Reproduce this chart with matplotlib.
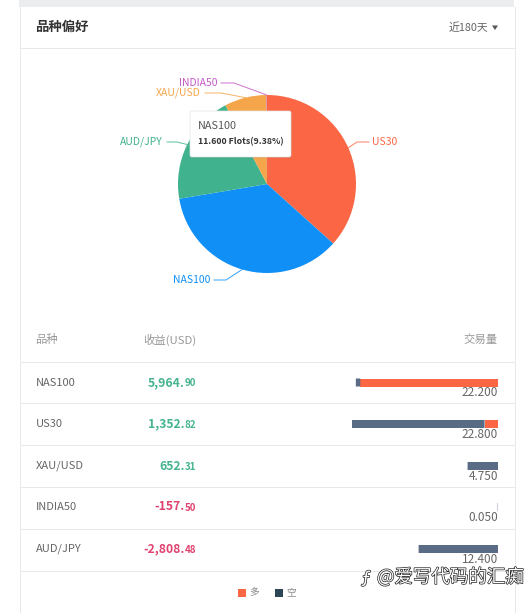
import math
import matplotlib
matplotlib.use("Agg")
import matplotlib.pyplot as plt
import matplotlib.patheffects as pe
from matplotlib.patches import Rectangle, FancyBboxPatch

plt.rcParams['font.family'] = ['Noto Sans CJK SC', 'DejaVu Sans']

# pie data, clockwise from the top
pie_names = ['US30', 'NAS100', 'AUD/JPY', 'XAU/USD', 'INDIA50']
pie_lots = [22.8, 22.2, 12.4, 4.75, 0.05]
pie_colors = ['#fb6745', '#1090f6', '#40b28d', '#f5a64b', '#c45ac8']

# table data
symbols = ['NAS100', 'US30', 'XAU/USD', 'INDIA50', 'AUD/JPY']
profit_main = ['5,964.', '1,352.', '652.', '-157.', '-2,808.']
profit_cents = ['90', '82', '31', '50', '48']
profit_sign = [1, 1, 1, -1, -1]
long_lots = [21.5, 2.1, 0, 0, 0]
short_lots = [0.7, 20.7, 4.75, 0.05, 12.4]
volume_labels = ['22.200', '22.800', '4.750', '0.050', '12.400']

W, H = 530, 613
GREEN = '#45b48d'
RED = '#e0436f'
LONG = '#fb6745'
SHORT = '#5a6b85'
LINE = '#e8e8e8'

fig = plt.figure(figsize=(W / 100, H / 100), dpi=100, facecolor='white')

# page layer in pixel coordinates
bg = fig.add_axes([0, 0, 1, 1])
bg.set_xlim(0, W)
bg.set_ylim(H, 0)
bg.axis('off')

bg.add_patch(Rectangle((19, 0), 495, 7, color='#ebedee', lw=0))
bg.plot([19.5, 19.5], [7, H], color=LINE, lw=0.72)
bg.plot([514.5, 514.5], [7, H], color=LINE, lw=0.72)
for y in [47.5, 361.5, 402.5, 444.5, 486.5, 528.5, 570.5]:
    bg.plot([19.5, 514.5], [y, y], color=LINE, lw=0.72)

bg.text(35.5, 27, '品种偏好', fontsize=9.6, fontweight='bold', color='#333333', va='center')
bg.text(488, 28, '近180天', fontsize=7.8, color='#666666', ha='right', va='center')
bg.fill([492, 498, 495], [25.5, 25.5, 30], color='#555555', lw=0)

bg.text(35.5, 340, '品种', fontsize=8.2, color='#999999', va='center')
bg.text(196, 340, '收益(USD)', fontsize=8.2, color='#999999', ha='right', va='center')
bg.text(498, 340, '交易量', fontsize=8.2, color='#999999', ha='right', va='center')

# pie
cx, cy, r = 267, 184, 89
pie_ax = fig.add_axes([(cx - r) / W, 1 - (cy + r) / H, 2 * r / W, 2 * r / H])
pie_ax.pie(pie_lots, colors=pie_colors, startangle=90, counterclock=False, radius=1,
           wedgeprops={'linewidth': 0})
pie_ax.set_xlim(-1, 1)
pie_ax.set_ylim(-1, 1)

# leader lines start at the middle of each slice
label_y = [142, 280, 142, 93, 83]
elbow_x = [357, 226, 177, 221, 234]
end_x = [369, 214, 167, 205, 221]
total = sum(pie_lots)
seen = 0
for name, lots, color, ly, ex, tx in zip(pie_names, pie_lots, pie_colors, label_y, elbow_x, end_x):
    mid = (seen + lots / 2) / total * 2 * math.pi
    seen += lots
    sx = cx + r * math.sin(mid)
    sy = cy - r * math.cos(mid)
    bg.plot([sx, ex, tx], [sy, ly, ly], color=color, lw=0.7, alpha=0.85, zorder=3)
    right = tx > cx
    bg.text(tx + (3 if right else -4), ly, name, color=color, fontsize=7.5, va='center',
            ha='left' if right else 'right', zorder=3)

# tooltip, on top of the pie
top = fig.add_axes([0, 0, 1, 1], facecolor='none')
top.set_xlim(0, W)
top.set_ylim(H, 0)
top.axis('off')
top.add_patch(FancyBboxPatch((190, 111), 101, 46, boxstyle='round,pad=0,rounding_size=2',
                             fc='white', ec='#e4e4e4', lw=0.5,
                             path_effects=[pe.withSimplePatchShadow(offset=(0.5, -1), alpha=0.12)]))
top.text(198, 126, 'NAS100', fontsize=7.8, color='#555555', va='center')
top.text(198, 141.5, '11.600 Flots(9.38%)', fontsize=6.35, fontweight='bold', color='#333333', va='center')

# table rows
row_y = [382.5, 424, 466, 507, 549]
renderer = fig.canvas.get_renderer()
for i, y in enumerate(row_y):
    color = GREEN if profit_sign[i] > 0 else RED
    top.text(35.5, y, symbols[i], fontsize=8, color='#666666', va='center')
    cents = top.text(196, y + 1, profit_cents[i], fontsize=7, fontweight='bold', color=color,
                     ha='right', va='center')
    left = cents.get_window_extent(renderer).x0
    top.text(left, y, profit_main[i], fontsize=8.8, fontweight='bold', color=color,
             ha='right', va='center')

# volume bars: long from the right edge, then short
scale = 146 / 22.8
bar_ax = fig.add_axes([(498 - 150) / W, 1 - 572 / H, 150 / W, (572 - 362) / H], facecolor='none')
bar_ax.set_xlim(150 / scale, 0)
bar_ax.set_ylim(572, 362)
bar_ax.axis('off')
bar_ax.barh(row_y, long_lots, height=8, color=LONG)
bars = bar_ax.barh(row_y, short_lots, left=long_lots, height=8, color=SHORT)
for bar in bars:
    bar.set_snap(False)

for y, label in zip(row_y, volume_labels):
    top.text(498, y + 10.5, label, fontsize=8.5, color='#666666', ha='right', va='center')

# legend
top.add_patch(Rectangle((238, 589), 8, 8, color=LONG, lw=0))
top.text(249, 592.5, '多', fontsize=7, color='#888888', va='center')
top.add_patch(Rectangle((275, 589), 8, 8, color='#2d4654', lw=0))
top.text(286, 592.5, '空', fontsize=7, color='#888888', va='center')

# watermark
top.text(377, 577, '@爱写代码的汇痴', fontsize=13.3, color='white', va='center',
         path_effects=[pe.withStroke(linewidth=1.0, foreground='#222222')])
top.text(366, 579, 'ƒ', fontsize=13, color='white', ha='center', va='center',
         path_effects=[pe.withStroke(linewidth=1.0, foreground='#222222')])

fig.savefig('out.png', dpi=100)
